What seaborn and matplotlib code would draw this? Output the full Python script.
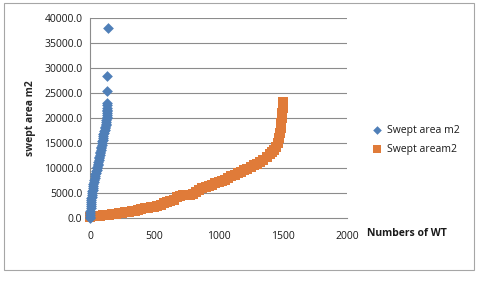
#!/usr/bin/env python3

import matplotlib
matplotlib.use("Agg")
import matplotlib.pyplot as plt
from matplotlib.patches import Rectangle
import seaborn as sns

# swept area per WT, first series (diamonds)
blue_x = [0, 1, 1, 2, 3, 4, 5, 6, 7, 9, 10, 12, 14, 16, 18, 20, 22, 25, 27,
          30, 33, 36, 39, 42, 45, 48, 51, 55, 58, 60, 62, 65, 68, 70, 72, 75,
          78, 80, 83, 86, 88, 90, 93, 95, 98, 100, 103, 105, 108, 110, 113,
          116, 119, 122, 124, 126, 128, 129, 130, 131, 132, 133, 134, 134, 135,
          136, 135, 135, 140]
blue_y = [0, 300, 600, 1000, 1400, 2000, 2400, 2800, 3200, 3600, 4000, 4300,
          4700, 5000, 5400, 5700, 6100, 6500, 6900, 7300, 7700, 8100, 8500,
          8800, 9100, 9400, 9700, 10000, 10300, 10600, 10900, 11300, 11600,
          12000, 12300, 12700, 13000, 13300, 13600, 14000, 14300, 14700, 15000,
          15400, 15700, 16100, 16400, 16800, 17100, 17400, 17700, 18000, 18300,
          18600, 18900, 19300, 19600, 20000, 20300, 20700, 21000, 21400, 21700,
          22000, 22600, 23000, 25400, 28400, 38000]

# swept area per WT, second series (squares), sorted
orange_x = [0, 25, 50, 75, 100, 125, 150, 175, 200, 225, 250, 275, 300, 325,
            350, 375, 400, 425, 450, 475, 500, 525, 550, 575, 600, 625, 650,
            675, 700, 725, 750, 775, 800, 825, 850, 875, 900, 925, 950, 975,
            1000, 1025, 1050, 1075, 1100, 1125, 1150, 1175, 1200, 1225, 1250,
            1275, 1300, 1325, 1350, 1375, 1400, 1415, 1430, 1445, 1460, 1470,
            1478, 1485, 1490, 1494, 1497, 1499, 1500, 1501]
orange_y = [300, 350, 400, 500, 600, 650, 700, 800, 900, 1000, 1100, 1200,
            1300, 1400, 1500, 1650, 1800, 1950, 2050, 2150, 2300, 2500, 2700,
            2950, 3200, 3400, 3600, 4200, 4400, 4550, 4650, 4700, 4900, 5300,
            5700, 6000, 6200, 6450, 6700, 7000, 7200, 7400, 7600, 8100, 8400,
            8700, 9000, 9300, 9600, 9900, 10200, 10600, 10900, 11300, 11700,
            12200, 12800, 13200, 13700, 14200, 15000, 16000, 17000, 18000,
            19000, 20000, 21000, 22000, 22800, 23300]

x_ticks = [0, 500, 1000, 1500, 2000]
y_ticks = [0, 5000, 10000, 15000, 20000, 25000, 30000, 35000, 40000]


def main():
    sns.set_style("white")
    plt.rcParams["font.family"] = ["Open Sans", "DejaVu Sans"]
    plt.rcParams["text.color"] = "#1a1a1a"
    plt.rcParams["xtick.labelcolor"] = "#1a1a1a"
    plt.rcParams["ytick.labelcolor"] = "#1a1a1a"

    fig = plt.figure(figsize=(4.8, 2.81), dpi=100)
    ax = fig.add_axes([90 / 480, 1 - 218 / 281, 257 / 480, 200 / 281])

    grid_col = "#8c8c8c"
    for y in y_ticks[1:]:
        ax.axhline(y, color=grid_col, lw=0.8, zorder=0)

    sns.scatterplot(x=orange_x, y=orange_y, marker="s", s=52, color="#e07b39",
                    linewidth=0, label="Swept aream2", ax=ax, zorder=3,
                    clip_on=False)
    sns.scatterplot(x=blue_x, y=blue_y, marker="D", s=30, color="#4f7fb8",
                    linewidth=0, label="Swept area m2", ax=ax, zorder=4,
                    clip_on=False)

    ax.set_xlim(0, 2000)
    ax.set_ylim(0, 40000)
    ax.set_xticks(x_ticks)
    ax.set_yticks(y_ticks)
    ax.set_yticklabels([f"{v:.1f}" for v in y_ticks])
    ax.tick_params(axis="both", labelsize=7.5, length=3.5, width=0.8,
                   color=grid_col, pad=2, direction="out")
    ax.tick_params(axis="x", pad=6)
    for side in ["top", "right"]:
        ax.spines[side].set_visible(False)
    for side in ["left", "bottom"]:
        ax.spines[side].set_color(grid_col)
        ax.spines[side].set_linewidth(0.8)

    ax.set_ylabel("swept area m2", fontsize=7.5, fontweight="bold")
    ax.yaxis.set_label_coords(-0.212, 0.5)
    ax.text(1.076, -0.08, "Numbers of WT", transform=ax.transAxes,
            fontsize=7.5, fontweight="bold", va="center", ha="left")

    handles, labels = ax.get_legend_handles_labels()
    leg = ax.legend(handles[::-1], labels[::-1], loc="center left",
                    bbox_to_anchor=(1.06, 0.39), frameon=False, fontsize=7.5,
                    handletextpad=0.0, labelspacing=0.8, markerscale=0.8,
                    borderaxespad=0.0)
    leg.legend_handles[1].set_sizes([36])

    fig.patches.append(Rectangle((4 / 480, 1 - 270 / 281), 470 / 480,
                                 267 / 281, transform=fig.transFigure,
                                 fill=False, edgecolor="#a6a6a6", lw=0.8))

    fig.savefig("out.png", dpi=100)
    plt.close(fig)


if __name__ == "__main__":
    main()
